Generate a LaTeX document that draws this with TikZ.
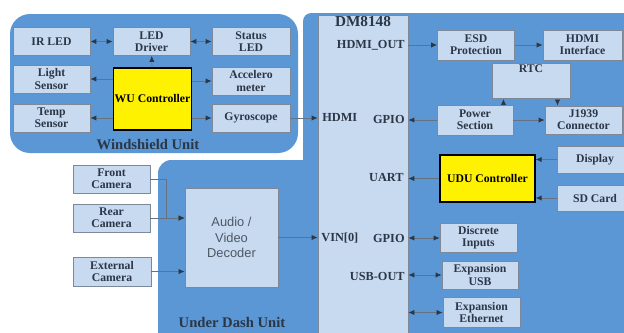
\documentclass[tikz,border=0pt]{standalone}
\usepackage{fontspec}
\setmainfont{Liberation Serif}
\newfontfamily\decfont{Liberation Sans}
\usetikzlibrary{arrows.meta}
\definecolor{unitblue}{HTML}{5A97D4}
\definecolor{boxfill}{HTML}{C8DAF0}
\definecolor{boxline}{HTML}{7D8898}
\definecolor{ink}{HTML}{2B3646}
\definecolor{wire}{HTML}{66727F}
\definecolor{ctrl}{HTML}{FFF200}
\definecolor{decink}{HTML}{4E5865}
\tikzset{
  blk/.style={rectangle,draw=boxline,line width=0.8pt,fill=boxfill,text=ink,align=center,inner sep=1pt,
    minimum width=2.31cm,minimum height=0.84cm,font=\bfseries\fontsize{10}{10.5}\selectfont},
  ctl/.style={blk,draw=black,line width=1.2pt,fill=ctrl,text=black},
  pin/.style={text=ink,inner sep=1pt,font=\bfseries\fontsize{10.5}{11}\selectfont},
  unit/.style={text=ink,font=\bfseries\fontsize{12.5}{13}\selectfont},
  link/.style={wire,line width=0.6pt,-{Latex[length=5pt,width=4.5pt,color=ink]}},
  dlink/.style={wire,line width=0.6pt,{Latex[length=5pt,width=4.5pt,color=ink]}-{Latex[length=5pt,width=4.5pt,color=ink]}}
}

\begin{document}
\begin{tikzpicture}[x=0.03cm,y=-0.03cm]
\useasboundingbox (0,0) rectangle (624,332);
\clip (0,0) rectangle (624,332);
% unit backgrounds
\fill[unitblue,rounded corners=0.6cm] (10,14) rectangle (298,153);
\fill[unitblue,rounded corners=0.25cm] (303,13) rectangle (640,345);
\fill[unitblue,rounded corners=0.4cm] (158,160) rectangle (330,345);

% windshield unit
\node[blk] (irled) at (51.5,41.5) {IR LED};
\node[blk] (leddrv) at (151.5,41.5) {LED\\Driver};
\node[blk,minimum width=2.34cm] (statled) at (251,41.5) {Status\\LED};
\node[blk] (light) at (51.5,79) {Light\\Sensor};
\node[blk,minimum width=2.34cm] (accel) at (251,81) {Accelero\\meter};
\node[blk] (temp) at (51.5,118) {Temp\\Sensor};
\node[blk,minimum width=2.34cm] (gyro) at (251,118) {Gyroscope};
\node[ctl,minimum width=2.25cm,minimum height=1.86cm] (wu) at (152.5,99) {WU Controller};
\node[unit] (wslabel) at (148,145) {Windshield Unit};

\draw[dlink] (irled) -- (leddrv);
\draw[dlink] (leddrv) -- (statled);
\draw[link] (wu) -- (leddrv);
\draw[link] (wu.west |- light.east) -- (light.east);
\draw[link] (wu.east |- accel.west) -- (accel.west);
\draw[link] (wu.west |- temp.east) -- (temp.east);
\draw[link] (wu.east |- gyro.west) -- (gyro.west);

% processor
\node[blk,minimum width=2.7cm,minimum height=9.75cm] (dm) at (363,177.5) {};
\node[unit,font=\bfseries\fontsize{13}{14}\selectfont] (dmname) at (363,22) {DM8148};
\node[pin,anchor=east] (hdmiout) at (406,45) {HDMI\_OUT};
\node[pin,anchor=west] (hdmi) at (321,117) {HDMI};
\node[pin,anchor=east] (gpioa) at (406,119) {GPIO};
\node[pin,anchor=east] (uart) at (405,177) {UART};
\node[pin,anchor=west] (vin) at (320,238) {VIN[0]};
\node[pin,anchor=east] (gpiob) at (406,238) {GPIO};
\node[pin,anchor=east] (usbout) at (406,276) {USB-OUT};

\draw[link] (gyro.east) -- (dm.west |- gyro.east);

% under dash unit
\node[blk] (front) at (111.5,179) {Front\\Camera};
\node[blk] (rear) at (111.5,218) {Rear\\Camera};
\node[blk,minimum width=2.34cm,minimum height=0.87cm] (extcam) at (112,271.5) {External\\Camera};
\node[blk,minimum width=2.79cm,minimum height=2.97cm,text=decink,
  font=\decfont\fontsize{11}{13}\selectfont] (decoder) at (231.5,237.5) {Audio /\\Video\\Decoder};
\node[unit] (udlabel) at (232,322) {Under Dash Unit};

\draw[link] (front.east) -- ++(16,0) |- (decoder.west |- rear.east);
\draw[link] (rear.east) -- (decoder.west |- rear.east);
\draw[link] (extcam.east) -- (decoder.west |- extcam.east);
\draw[link] (decoder.east) -- (dm.west |- decoder.east);

% peripherals
\node[blk,minimum height=0.9cm] (esd) at (476,45) {ESD\\Protection};
\node[blk,minimum width=2.37cm,minimum height=0.9cm] (hdmiif) at (582.5,45) {HDMI\\Interface};
\node[blk,minimum width=2.34cm] (rtc) at (531,81) {RTC\\[1.1em]};
\node[blk,minimum width=2.28cm,minimum height=0.9cm] (power) at (475,120) {Power\\Section};
\node[blk] (j1939) at (583.5,120) {J1939\\Connector};
\node[ctl,minimum width=2.85cm,minimum height=1.41cm] (udu) at (487.5,178.5) {UDU Controller};
\node[blk,minimum width=2.28cm,minimum height=0.81cm] (display) at (595,159.5) {Display};
\node[blk,minimum width=2.28cm,minimum height=0.78cm] (sdcard) at (595,198) {SD Card};
\node[blk,minimum height=0.87cm] (discrete) at (478.5,238) {Discrete\\Inputs};
\node[blk,minimum width=2.28cm] (expusb) at (480,275) {Expansion\\USB};
\node[blk,minimum height=0.9cm] (expeth) at (481.5,312.5) {Expansion\\Ethernet};

\draw[link] (dm.east |- esd.west) -- (esd.west);
\draw[link] (esd) -- (hdmiif);
\draw[link] (power.west) -- (dm.east |- power.west);
\draw[link] (power) -- (j1939);
\draw[link] (power.north east) ++(-10,0) coordinate (pwup) -- (pwup |- rtc.south);
\draw[link] (rtc.south east) ++(-13,0) coordinate (rtdn) -- (rtdn |- j1939.north);
\draw[link] (udu.west) -- (dm.east |- udu.west);
\draw[link] (display.west) -- (udu.east |- display.west);
\draw[link] (sdcard.west) -- (udu.east |- sdcard.west);
\draw[dlink] (dm.east |- discrete.west) -- (discrete.west);
\draw[dlink] (dm.east |- expusb.west) -- (expusb.west);
\draw[dlink] (dm.east |- expeth.west) -- (expeth.west);
\end{tikzpicture}
\end{document}
